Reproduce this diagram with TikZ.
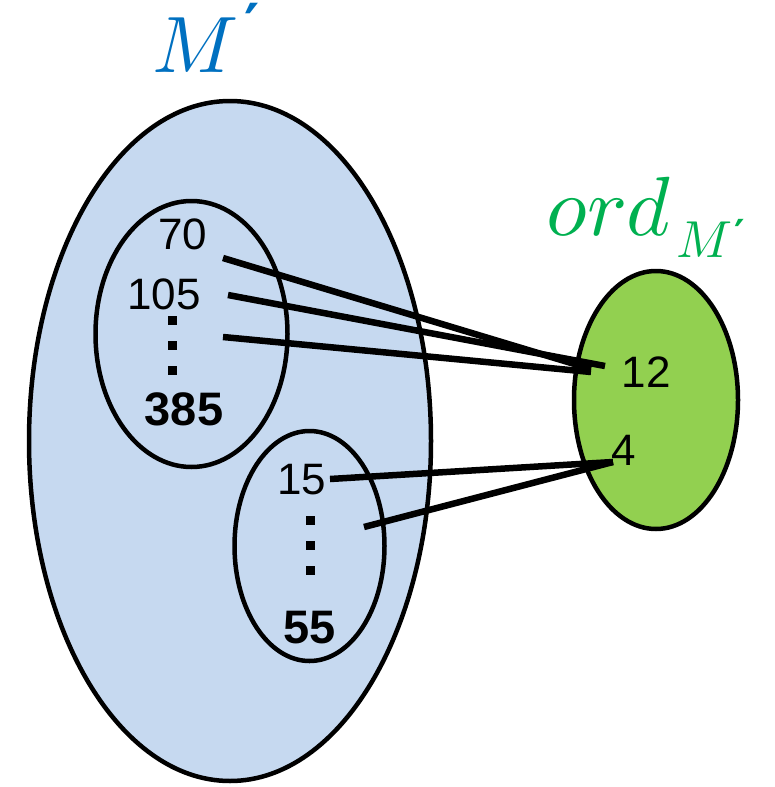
\documentclass[tikz,border=0pt]{standalone}
\usepackage{fontspec}
\setmainfont{Liberation Sans}
\usepackage{unicode-math}
\setmathfont{Latin Modern Math}
\newfontfamily\primefont{DejaVu Sans}
\definecolor{setblue}{RGB}{198,217,240}
\definecolor{setgreen}{RGB}{146,208,80}
\definecolor{titleblue}{RGB}{0,112,192}
\definecolor{titlegreen}{RGB}{0,176,80}
\tikzset{
  setline/.style={draw=black,line width=4.5pt},
  conn/.style={draw=black,line width=6.5pt},
  num/.style={font=\fontsize{44}{48}\selectfont,inner sep=0pt},
  bnum/.style={font=\fontsize{47}{50}\selectfont\bfseries,inner sep=0pt},
  dotmark/.style={fill=black,minimum size=9pt,inner sep=0pt},
  ttl/.style={inner sep=0pt,anchor=base west},
}
\begin{document}
\begin{tikzpicture}[x=1pt,y=-1pt]
\useasboundingbox (0,0) rectangle (774,787);
% sets
\draw[setline,fill=setblue] (230,441) ellipse [x radius=201, y radius=340];
\draw[setline] (191.5,334) ellipse [x radius=96, y radius=133];
\draw[setline] (309.5,546) ellipse [x radius=75, y radius=115];
\draw[setline,fill=setgreen] (656,400) ellipse [x radius=82, y radius=129];
% titles
\node[ttl,text=titleblue,font=\fontsize{80}{90}\selectfont] (tM) at (152,72) {$M$};
\node[ttl,text=titleblue,font=\fontsize{58}{64}\selectfont\primefont\bfseries] (tMp) at (244,45) {′};
\node[ttl,text=titlegreen,font=\fontsize{84}{90}\selectfont] (tord) at (546,235) {$ord$};
\node[ttl,text=titlegreen,font=\fontsize{52}{60}\selectfont] (tsub) at (676,257) {$M$};
\node[ttl,text=titlegreen,font=\fontsize{40}{46}\selectfont\primefont\bfseries] (tsubp) at (734,248) {′};
% elements
\node[num] (n70) at (183,234) {70};
\node[num] (n105) at (164,294) {105};
\node[dotmark] (d1a) at (172,320) {};
\node[dotmark] (d1b) at (172,345) {};
\node[dotmark] (d1c) at (172,370) {};
\node[bnum] (n385) at (184,409) {385};
\node[num] (n15) at (302,480) {15};
\node[dotmark] (d2a) at (310,520) {};
\node[dotmark] (d2b) at (310,545) {};
\node[dotmark] (d2c) at (310,570) {};
\node[bnum] (n55) at (310,628) {55};
\node[num] (n12) at (646,372) {12};
\node[num] (n4) at (624,450) {4};
% connector end points
\coordinate (a1) at (223,258);
\coordinate (a2) at (228,295);
\coordinate (a3) at (223,337);
\coordinate (b1) at (591,369);
\coordinate (b2) at (605,366);
\coordinate (b3) at (591,372);
\coordinate (c1) at (330,479);
\coordinate (c2) at (364,527);
\coordinate (e1) at (613,462);
\draw[conn] (a1) -- (b1);
\draw[conn] (a2) -- (b2);
\draw[conn] (a3) -- (b3);
\draw[conn] (c1) -- (e1);
\draw[conn] (c2) -- (e1);
\end{tikzpicture}
\end{document}
